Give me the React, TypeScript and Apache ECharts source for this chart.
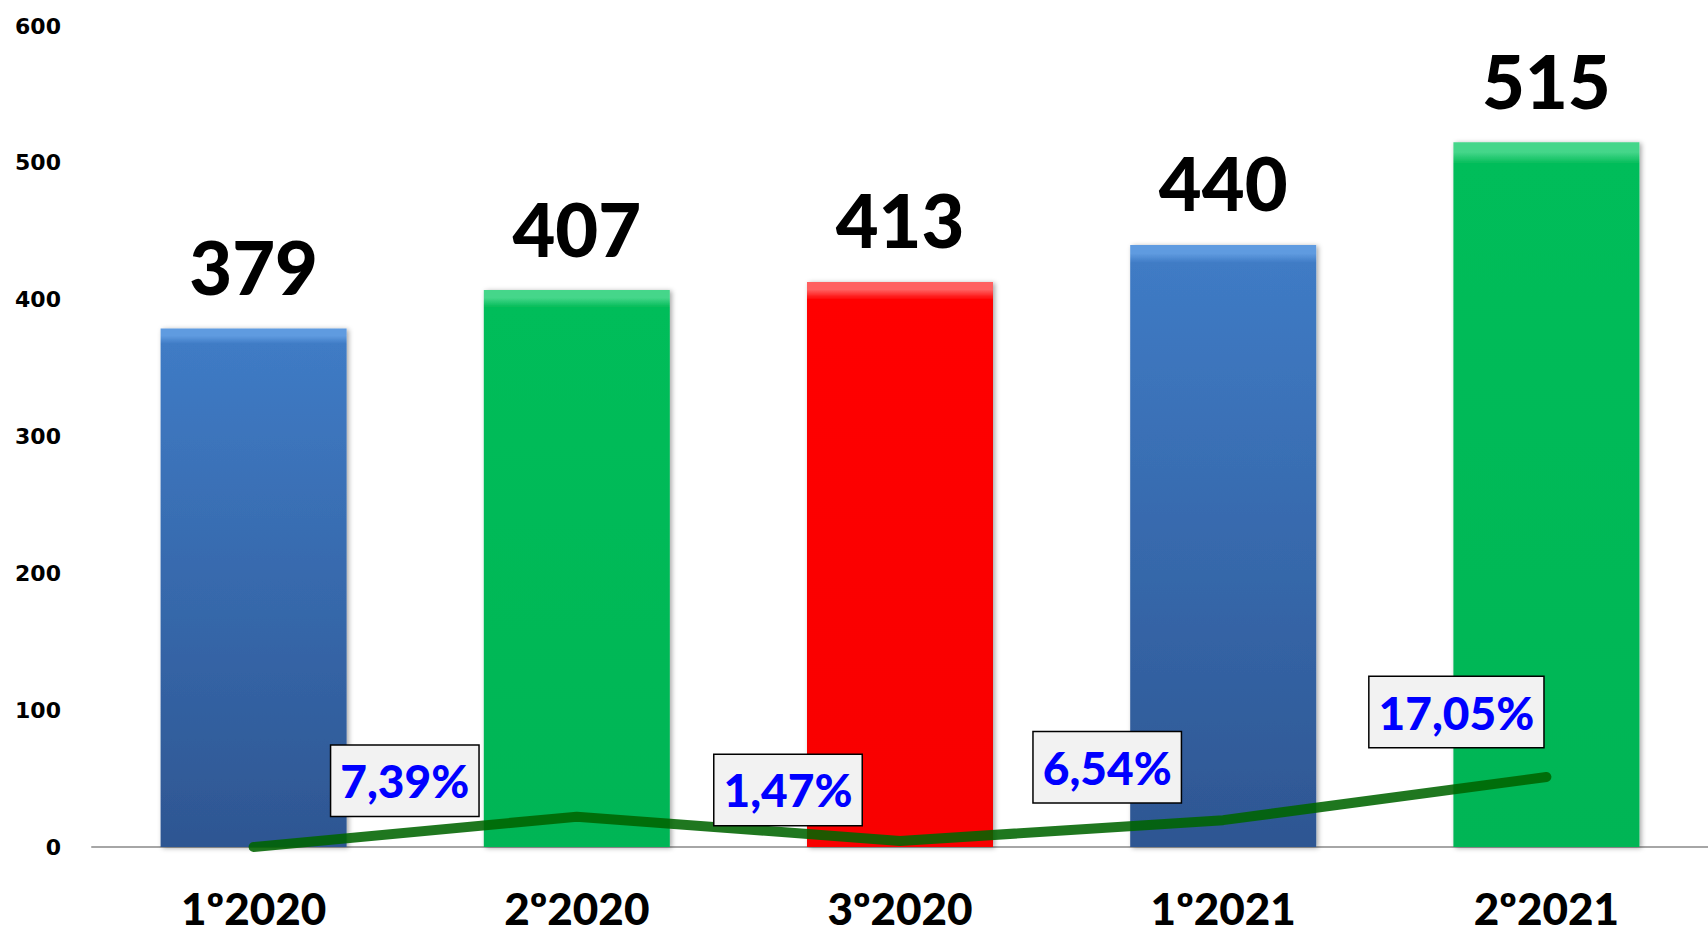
import React, { useEffect, useRef } from "react";
import * as echarts from "echarts";

const categories = ["1º2020", "2º2020", "3º2020", "1º2021", "2º2021"];
const totals = [379, 407, 413, 440, 515];
const growthPct = [0, 7.39, 1.47, 6.54, 17.05];

const barPalette = [
  ["#5f9be0", "#3f7bc5", "#2e5692"],
  ["#45d68a", "#06bd5a", "#04b555"],
  ["#ff6060", "#ff0505", "#f80000"],
  ["#5f9be0", "#3f7bc5", "#2e5692"],
  ["#45d68a", "#06bd5a", "#04b555"],
];
const pctLabelOffsets = [
  [0, 0],
  [-172, -36],
  [-112, -51],
  [-116, -53],
  [-90, -65],
];

export default function App() {
  const ref = useRef<HTMLDivElement>(null);
  useEffect(() => {
    if (!ref.current) return;
    const chart = echarts.init(ref.current, undefined, { renderer: "svg" });
    const barData = totals.map((v, i) => ({
      value: v,
      itemStyle: {
        color: new echarts.graphic.LinearGradient(0, 0, 0, 1, [
          { offset: 0, color: barPalette[i][0] },
          { offset: 0.014, color: barPalette[i][0] },
          { offset: 0.03, color: barPalette[i][1] },
          { offset: 1, color: barPalette[i][2] },
        ]),
      },
    }));
    const lineData = growthPct.map((v, i) => ({
      value: v,
      label: {
        show: i > 0,
        offset: pctLabelOffsets[i],
      },
    }));
    chart.setOption({
      animation: false,
      backgroundColor: "#ffffff",
      grid: { left: 92, right: 0, top: 26, bottom: 90, containLabel: false },
      xAxis: {
        type: "category",
        data: categories,
        axisLine: { show: true, lineStyle: { color: "#a6a6a6", width: 2 } },
        axisTick: { show: false },
        axisLabel: {
          margin: 46,
          color: "#000",
          fontFamily: "Lato",
          fontWeight: 900,
          fontSize: 44,
          lineHeight: 30,
        },
      },
      yAxis: [
        {
          type: "value",
          min: 0,
          max: 600,
          interval: 100,
          axisLine: { show: false },
          axisTick: { show: false },
          splitLine: { show: false },
          axisLabel: {
            margin: 31,
            color: "#000",
            fontFamily: "DejaVu Sans",
            fontWeight: "bold",
            fontSize: 22,
          },
        },
        {
          type: "value",
          min: 0,
          max: 200,
          show: false,
          splitLine: { show: false },
        },
      ],
      series: [
        {
          type: "bar",
          data: barData,
          barWidth: 186,
          itemStyle: {
            shadowColor: "rgba(0,0,0,0.35)",
            shadowBlur: 5,
            shadowOffsetX: 2,
            shadowOffsetY: 1,
          },
          label: {
            show: true,
            position: "top",
            distance: 25,
            color: "#000",
            fontFamily: "Lato",
            fontWeight: 900,
            fontSize: 74,
          },
          z: 2,
        },
        {
          type: "line",
          yAxisIndex: 1,
          data: lineData,
          symbol: "circle",
          symbolSize: 1,
          itemStyle: { color: "rgba(0,0,0,0)" },
          lineStyle: { color: "rgba(0,100,0,0.88)", width: 10, cap: "round", join: "round" },
          label: {
            position: "inside",
            formatter: (p: any) => `${Number(p.value).toFixed(2).replace(".", ",")}%`,
            color: "#0000ff",
            fontFamily: "Lato",
            fontWeight: 900,
            fontSize: 46,
            lineHeight: 50,
            backgroundColor: "#f2f2f2",
            borderColor: "#000",
            borderWidth: 1.5,
            padding: [10, 9, 10, 9],
          },
          z: 3,
        },
      ],
    });
    return () => chart.dispose();
  }, []);
  return (
    <div
      ref={ref}
      style={{ position: "fixed", left: 0, top: 0, width: 1708, height: 937 }}
    />
  );
}
